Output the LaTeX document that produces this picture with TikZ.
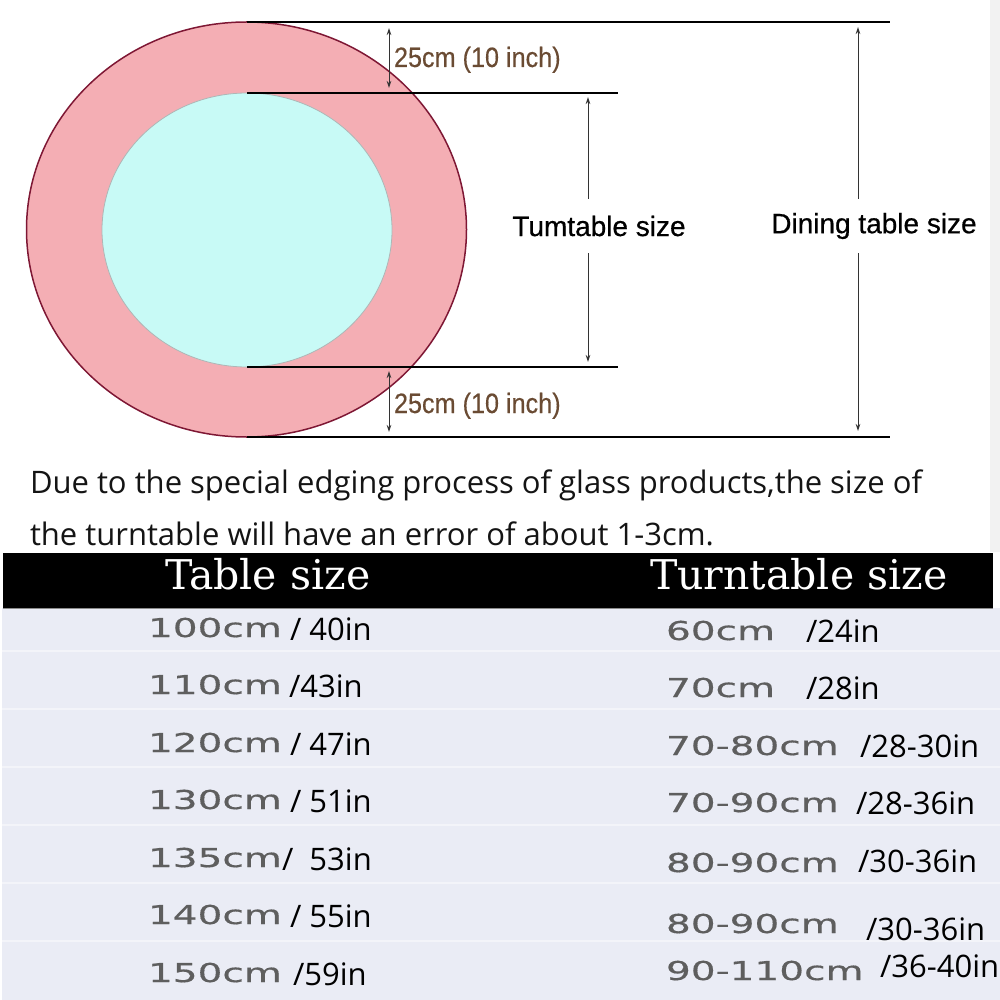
\documentclass[tikz,border=0pt]{standalone}
\usepackage{fontspec}
\setmainfont{Open Sans}
\newfontfamily\dimfont[FakeBold=0.6]{Liberation Sans}
\newfontfamily\gapfont[FakeStretch=0.9,FakeBold=0.4]{Liberation Sans}
\newfontfamily\headfont{DejaVu Serif}
\newfontfamily\cmfont[FakeStretch=1.5,FakeBold=0.5]{DejaVu Sans}
\usetikzlibrary{shapes.geometric, arrows.meta, positioning}

\definecolor{ringpink}{HTML}{F4AEB4}
\definecolor{ringedge}{HTML}{7E1734}
\definecolor{topcyan}{HTML}{C8FAF6}
\definecolor{rimgray}{HTML}{AEB6B6}
\definecolor{dimbrown}{HTML}{6A4B33}
\definecolor{dimgray}{HTML}{333333}
\definecolor{bodygray}{HTML}{EAECF5}
\definecolor{cmgray}{HTML}{5E5E5E}

\begin{document}
\begin{tikzpicture}[x=1pt,y=-1pt,
    every node/.style={inner sep=0pt,outer sep=0pt},
    rule/.style={draw=black,line width=1.6pt},
    dim/.style={draw=dimgray,line width=1pt},
    note/.style={anchor=base west,text=black!92,font=\fontsize{31}{33}\selectfont},
    gap/.style={anchor=base west,text=dimbrown,font=\gapfont\fontsize{28}{28}\selectfont},
    sizelabel/.style={font=\dimfont\fontsize{28}{28}\selectfont},
    headtext/.style={anchor=base west,text=white,font=\headfont\fontsize{41}{41}\selectfont},
    cmtext/.style={anchor=base west,text=cmgray,font=\cmfont\fontsize{26}{26}\selectfont},
    intext/.style={anchor=base west,font=\fontsize{31}{31}\selectfont}]
  \useasboundingbox (0,0) rectangle (1000,1000);
  \clip (0,0) rectangle (1000,1000);
  \fill[black!5] (990,0) rectangle (1000,552);

  % table and turntable
  \node[ellipse,draw=ringedge,line width=1.5pt,fill=ringpink,
        minimum width=440,minimum height=415] (table) at (246.5,229.5) {};
  \node[ellipse,draw=rimgray,line width=0.8pt,fill=topcyan,
        minimum width=290,minimum height=274] (turntable) at (247,230) {};

  \coordinate (topR) at (890,22);
  \coordinate (innR) at (618,93);
  \coordinate (inbR) at (618,367);
  \coordinate (botR) at (890,437);
  \draw[rule] (table.north) -- (topR);
  \draw[rule] (turntable.north) -- (innR);
  \draw[rule] (turntable.south) -- (inbR);
  \draw[rule] (table.south) -- (botR);

  % dimensions
  \begin{scope}[every path/.style={dim},>={Stealth[length=7pt,width=4.5pt]}]
    \coordinate (g1) at (389,28);  \coordinate (g2) at (389,88);
    \coordinate (g3) at (389,371); \coordinate (g4) at (389,432);
    \coordinate (t1) at (588,97);  \coordinate (t2) at (588,199);
    \coordinate (t3) at (588,253); \coordinate (t4) at (588,362);
    \coordinate (d1) at (858,27);  \coordinate (d2) at (858,199);
    \coordinate (d3) at (858,253); \coordinate (d4) at (858,431);
    \draw[<->] (g1) -- (g2);
    \draw[<->] (g3) -- (g4);
    \draw[<-] (t1) -- (t2);
    \draw[->] (t3) -- (t4);
    \draw[<-] (d1) -- (d2);
    \draw[->] (d3) -- (d4);
  \end{scope}
  \node[gap] (gaptop) at (394,67) {25cm (10 inch)};
  \node[gap] (gapbot) at (394,413) {25cm (10 inch)};
  \node[sizelabel] (ttsize) at (599,226) {Tumtable size};
  \node[sizelabel] (dtsize) at (874,226) {Dining table size};

  % note
  \node[note] (note1) at (30,493) {Due to the special edging process of glass products,the size of};
  \node[note] (note2) at (30,545) {the turntable will have an error of about 1-3cm.};

  % size table
  \node[fill=black,minimum width=990,minimum height=55,anchor=north west] (head) at (3,553) {};
  \fill[bodygray] (2,608) rectangle (1000,1000);
  \draw[black!45,line width=0.8pt] (3,608.5) -- (993,608.5);
  \foreach \s in {651,709,767,825,883,941}
    \draw[white,opacity=0.45,line width=1.5pt] (2,\s) -- (1000,\s);
  \node[headtext] (hleft) at (165,589) {Table size};
  \node[headtext] (hright) at (650,589) {Turntable size};

  \foreach \ly/\la/\lx/\lb/\ry/\ra/\rx/\rby/\rb [count=\i] in {
      637/100cm/290/{/ 40in}/640/60cm/806/642/{/24in},
      694/110cm/289/{/43in}/697/70cm/806/699/{/28in},
      752/120cm/290/{/ 47in}/755/70-80cm/860/757/{/28-30in},
      809/130cm/290/{/ 51in}/812/70-90cm/856/814/{/28-36in},
      867/135cm/282/{/~~53in}/872/80-90cm/858/872/{/30-36in},
      924/140cm/290/{/ 55in}/933/80-90cm/866/940/{/30-36in},
      982/150cm/293/{/59in}/980/90-110cm/880/977/{/36-40in}}
  {
    \node[cmtext] (l\i) at (148,\ly) {\la};
    \node[intext] (lin\i) at (\lx,\ly+3) {\lb};
    \node[cmtext] (r\i) at (666,\ry) {\ra};
    \node[intext] (rin\i) at (\rx,\rby) {\rb};
  }
\end{tikzpicture}
\end{document}
